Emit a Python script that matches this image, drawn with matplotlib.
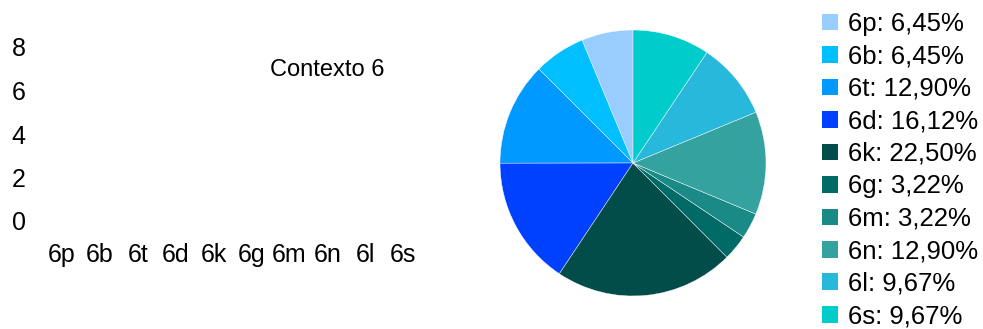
import numpy as np
import matplotlib
matplotlib.use('Agg')
import matplotlib.pyplot as plt
from matplotlib.patches import Patch

plt.rcParams['font.family'] = ['Liberation Sans', 'DejaVu Sans']

# dados
categorias = ['6p', '6b', '6t', '6d', '6k', '6g', '6m', '6n', '6l', '6s']
valores_barra = [0, 0, 0, 0, 0, 0, 0, 0, 0, 0]
percentuais = [6.45, 6.45, 12.90, 16.12, 22.50, 3.22, 3.22, 12.90, 9.67, 9.67]
rotulos_pct = ['6,45%', '6,45%', '12,90%', '16,12%', '22,50%',
               '3,22%', '3,22%', '12,90%', '9,67%', '9,67%']
cores = ['#99CCFF', '#00BFFF', '#0099FF', '#0040FF', '#024C4A',
         '#006B66', '#198A86', '#34A3A0', '#27B8DC', '#00CCCC']
y_ticks = [0, 2, 4, 6, 8]

W, H = 983, 329
fig = plt.figure(figsize=(W / 100, H / 100), dpi=100)

# ---- grafico de barras (vazio) ----
ax1 = fig.add_axes([43 / W, (H - 221) / H, (422 - 43) / W, (221 - 47) / H])
x = np.arange(len(categorias))
ax1.bar(x, valores_barra, color=cores, width=0.6)
ax1.set_xlim(-0.5, len(categorias) - 0.5)
ax1.set_ylim(0, 8)
ax1.set_yticks(y_ticks)
ax1.set_xticks(x)
ax1.set_xticklabels(categorias)
for s in ax1.spines.values():
    s.set_visible(False)
ax1.tick_params(axis='both', length=0, labelsize=18)
ax1.tick_params(axis='y', pad=12.5)
ax1.tick_params(axis='x', pad=16)
fig.text(327 / W, 1 - 70 / H, 'Contexto 6', ha='center', va='center', fontsize=17)

# ---- pizza ----
ax2 = fig.add_axes([(633 - 133) / W, (H - 163 - 133) / H, 266 / W, 266 / H])
ax2.pie(percentuais, colors=cores, startangle=90, counterclock=True,
        wedgeprops=dict(edgecolor='white', linewidth=0.3))
ax2.set_xlim(-1, 1)
ax2.set_ylim(-1, 1)
ax2.set_aspect('auto')

handles = [Patch(facecolor=c, edgecolor='none') for c in cores]
labels = [f'{c}: {p}' for c, p in zip(categorias, rotulos_pct)]
fig.legend(handles, labels, loc='upper left', bbox_to_anchor=(822 / W, 1 - 12 / H),
           frameon=False, fontsize=18.5, handlelength=0.62, handleheight=0.62,
           handletextpad=0.38, labelspacing=0.33, borderpad=0, borderaxespad=0)

fig.savefig('out.png', dpi=100)
